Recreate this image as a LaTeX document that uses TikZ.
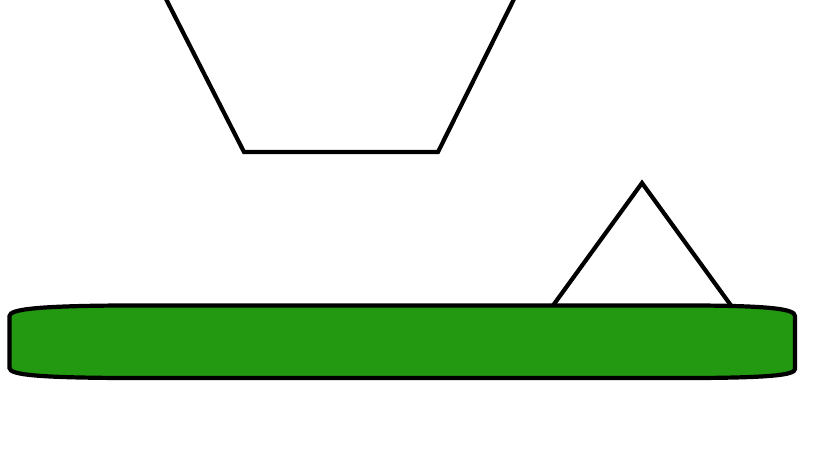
\documentclass[tikz,border=0pt]{standalone}
\definecolor{bargreen}{HTML}{229911}
\tikzset{outline/.style={draw=black,line width=4.2pt,line join=miter}}
\begin{document}
\begin{tikzpicture}[x=1pt,y=-1pt]
\useasboundingbox (0,0) rectangle (819,460);
% trapezoid (open at top)
\draw[outline] (165,-3) -- (244,152) -- (438,152) -- (515,-3);
% green bar
\draw[outline,fill=bargreen] (9.5,316) .. controls (9.5,309) and (40,306) .. (120,305.5)
  -- (700,305.5) .. controls (770,306) and (795,309) .. (795,316)
  -- (795,369) .. controls (795,375) and (770,377.5) .. (700,378)
  -- (120,378) .. controls (40,377.5) and (9.5,375) .. (9.5,368) -- cycle;
% triangle
\draw[outline] (553,305.5) -- (642,183) -- (731,305.5);
\end{tikzpicture}
\end{document}
